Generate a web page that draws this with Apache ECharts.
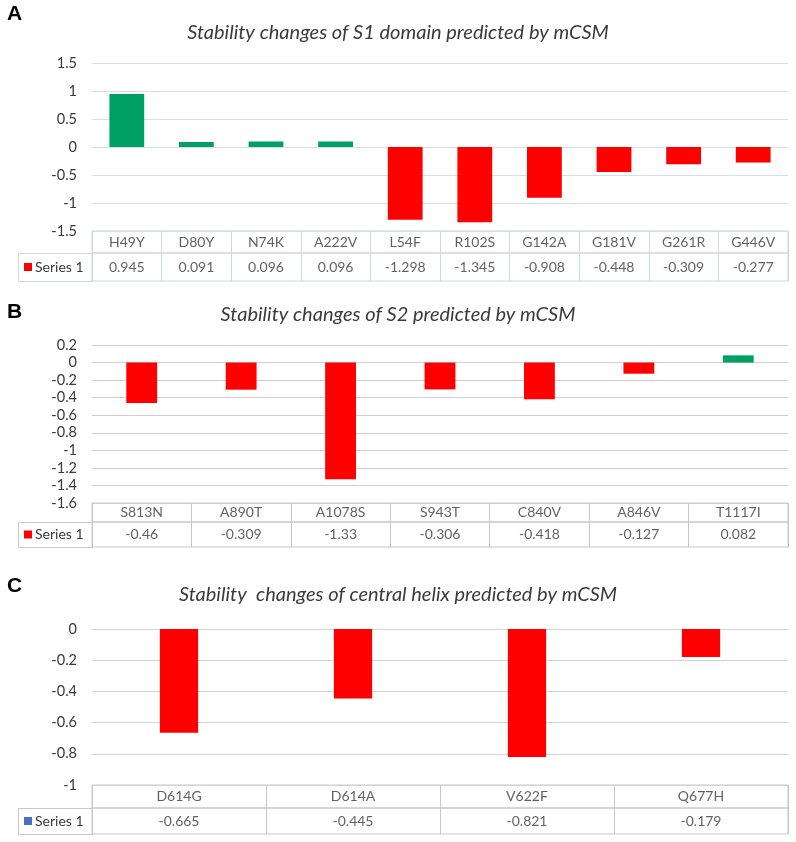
<!DOCTYPE html>
<html>
<head>
<meta charset="utf-8">
<script src="https://cdn.jsdelivr.net/npm/echarts@6/dist/echarts.min.js"></script>
<style>
  html, body { margin: 0; padding: 0; background: #fff; }
  #main { width: 796px; height: 842px; }
</style>
</head>
<body>
<div id="main"></div>
<script>
"use strict";

// panel A: S1 domain
var catsA = ['H49Y', 'D80Y', 'N74K', 'A222V', 'L54F', 'R102S', 'G142A', 'G181V', 'G261R', 'G446V'];
var valsA = [0.945, 0.091, 0.096, 0.096, -1.298, -1.345, -0.908, -0.448, -0.309, -0.277];

// panel B: S2
var catsB = ['S813N', 'A890T', 'A1078S', 'S943T', 'C840V', 'A846V', 'T1117I'];
var valsB = [-0.46, -0.309, -1.33, -0.306, -0.418, -0.127, 0.082];

// panel C: central helix
var catsC = ['D614G', 'D614A', 'V622F', 'Q677H'];
var valsC = [-0.665, -0.445, -0.821, -0.179];

var seriesName = 'Series 1';

var GREEN = '#00a061';
var RED = '#ff0000';
var TXT = '#3a3a3a';
var FONT = 'Lato, "Open Sans", sans-serif';

// layout of each panel (pixels)
var panels = [
    { letter: 'A', letterY: 15, title: 'Stability changes of S1 domain predicted by mCSM', titleY: 31,
      cats: catsA, vals: valsA, min: -1.5, max: 1.5, step: 0.5,
      plotTop: 63, tableTop: 231, headBottom: 253, rowBottom: 281, barWidth: '50%',
      grid: '#d5dee8', border: '#cbd7e3', legendColor: RED },
    { letter: 'B', letterY: 313, title: 'Stability changes of S2 predicted by mCSM', titleY: 313,
      cats: catsB, vals: valsB, min: -1.6, max: 0.2, step: 0.2,
      plotTop: 345, tableTop: 503, headBottom: 522, rowBottom: 547, barWidth: '31%',
      grid: '#cfcfcf', border: '#c8c8c8', legendColor: RED },
    { letter: 'C', letterY: 587, title: 'Stability  changes of central helix predicted by mCSM', titleY: 593,
      cats: catsC, vals: valsC, min: -1, max: 0, step: 0.2,
      plotTop: 629, tableTop: 785, headBottom: 808, rowBottom: 834, barWidth: '22%',
      grid: '#d3d3d3', border: '#c8c8c8', legendColor: '#4472c4' }
];

var LEFT = 92, RIGHT = 8, CELL_LEFT = 18;

var grids = [], xAxes = [], yAxes = [], series = [], titles = [], graphics = [];

function tableRow(p, top, bottom, labels) {
    var gi = grids.length;
    grids.push({ left: LEFT, right: RIGHT, top: top, height: bottom - top,
                 show: true, borderColor: p.border, borderWidth: 1, containLabel: false });
    xAxes.push({ type: 'category', gridIndex: gi, data: p.cats,
                 axisLine: { show: false }, axisTick: { show: false }, axisLabel: { show: false },
                 splitLine: { show: true, interval: 0, lineStyle: { color: p.border, width: 1 } } });
    yAxes.push({ type: 'value', gridIndex: gi, min: 0, max: 1,
                 axisLine: { show: false }, axisTick: { show: false }, axisLabel: { show: false },
                 splitLine: { show: false } });
    series.push({
        type: 'scatter', xAxisIndex: gi, yAxisIndex: gi, silent: true,
        symbolSize: 1, itemStyle: { color: 'rgba(0,0,0,0)' },
        data: p.cats.map(function (c, i) { return { value: [c, 0.5], text: labels[i] }; }),
        label: { show: true, position: 'inside', color: TXT, fontSize: 14, fontFamily: FONT,
                 formatter: function (d) { return d.data.text; } }
    });
}

panels.forEach(function (p) {
    // plot area
    var gi = grids.length;
    grids.push({ left: LEFT, right: RIGHT, top: p.plotTop, height: p.tableTop - p.plotTop });
    xAxes.push({ type: 'category', gridIndex: gi, data: p.cats,
                 axisLine: { show: false }, axisTick: { show: false }, axisLabel: { show: false } });
    yAxes.push({ type: 'value', gridIndex: gi, min: p.min, max: p.max, interval: p.step,
                 axisLine: { show: false }, axisTick: { show: false },
                 axisLabel: { color: TXT, fontSize: 14.5, fontFamily: FONT, margin: 15,
                              formatter: function (v) { return String(Math.round(v * 10) / 10); } },
                 splitLine: { lineStyle: { color: p.grid, width: 1 } } });
    series.push({
        type: 'bar', name: seriesName, xAxisIndex: gi, yAxisIndex: gi, barWidth: p.barWidth,
        data: p.vals,
        itemStyle: { color: function (d) { return d.value >= 0 ? GREEN : RED; } }
    });

    // data table rows
    tableRow(p, p.tableTop, p.headBottom, p.cats);
    tableRow(p, p.headBottom, p.rowBottom, p.vals.map(String));

    // title and panel letter
    titles.push({ text: p.title, left: 'center', top: p.titleY - 13,
                  textStyle: { fontFamily: FONT, fontStyle: 'italic', fontWeight: 'normal',
                               fontSize: 20, color: TXT } });
    graphics.push({ type: 'text', left: 7, top: p.letterY - 11,
                    style: { text: p.letter, font: 'bold 21px "Liberation Sans", Arial, sans-serif', fill: '#000' } });

    // legend cell of the table
    var h = p.rowBottom - p.headBottom;
    graphics.push({ type: 'rect', shape: { x: CELL_LEFT + 0.5, y: p.headBottom + 0.5, width: LEFT - CELL_LEFT, height: h },
                    style: { fill: 'none', stroke: p.border, lineWidth: 1 } });
    graphics.push({ type: 'rect', shape: { x: CELL_LEFT + 6, y: p.headBottom + h / 2 - 4, width: 8, height: 8 },
                    style: { fill: p.legendColor } });
    graphics.push({ type: 'text', x: CELL_LEFT + 17, y: p.headBottom + h / 2,
                    style: { text: seriesName, fill: TXT, font: '14px ' + FONT, textVerticalAlign: 'middle' } });
});

var chart = echarts.init(document.getElementById('main'), null, { renderer: 'canvas' });
chart.setOption({
    animation: false,
    backgroundColor: '#ffffff',
    title: titles,
    grid: grids,
    xAxis: xAxes,
    yAxis: yAxes,
    series: series,
    graphic: graphics
});
</script>
</body>
</html>
